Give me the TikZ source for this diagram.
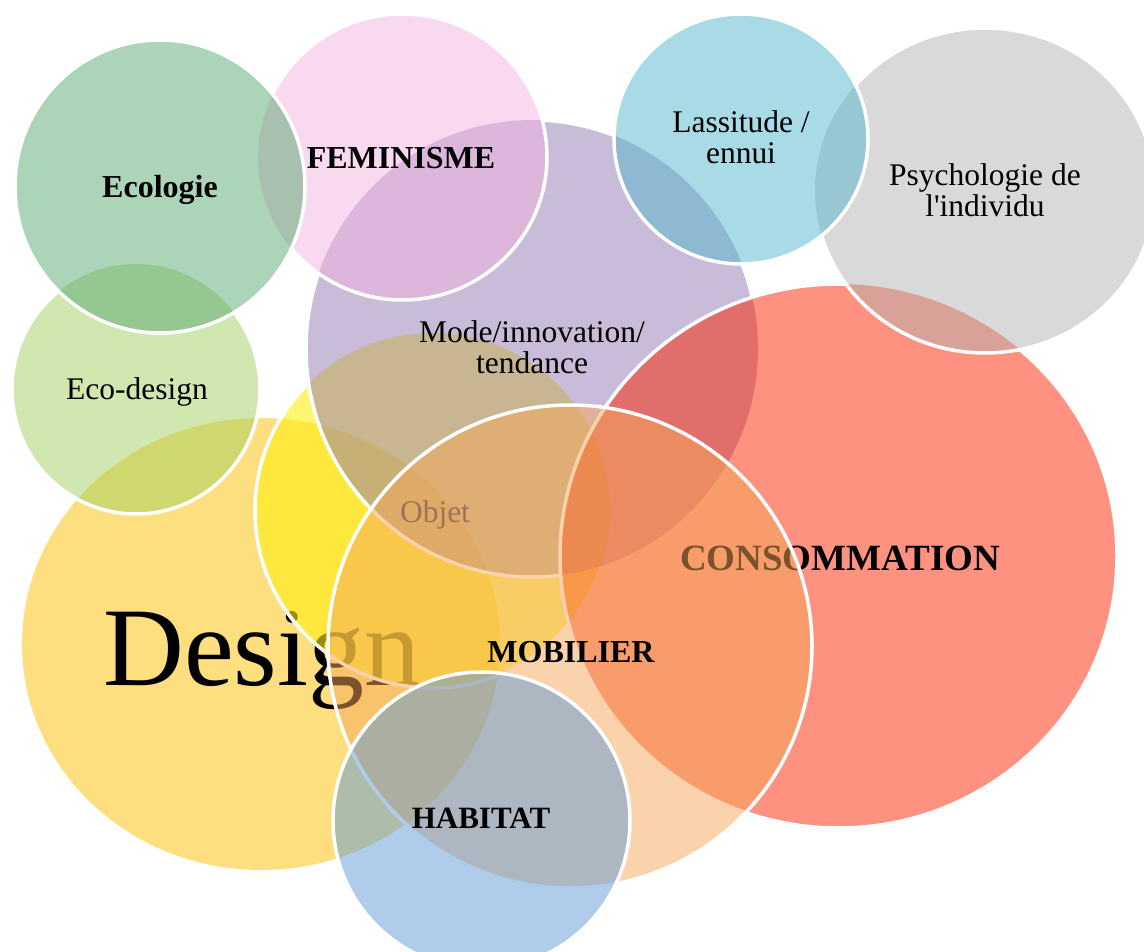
\documentclass[tikz,border=0pt]{standalone}
\usepackage{fontspec}
\setmainfont{Liberation Serif}[Ligatures=TeXOff]
\definecolor{cDesign}{RGB}{251,191,0}
\definecolor{cObjet}{RGB}{255,238,17}
\definecolor{cMode}{RGB}{145,121,177}
\definecolor{cCons}{RGB}{253,35,0}
\definecolor{cMob}{RGB}{245,167,89}
\definecolor{cHab}{RGB}{95,155,215}
\definecolor{cEcoD}{RGB}{161,209,97}
\definecolor{cFem}{RGB}{241,179,223}
\definecolor{cEcol}{RGB}{89,169,113}
\definecolor{cPsy}{RGB}{179,179,179}
\definecolor{cLass}{RGB}{83,183,205}
% exclusion clip: keep everything outside the given ellipse
\newcommand\ExclClip[4]{\clip (-60,-60) rectangle (1260,1060) (#1,#2) ellipse [x radius=#3pt, y radius=#4pt];}
\tikzset{
  pDesign/.style={insert path={(261,644) ellipse [x radius=239pt, y radius=226pt]}},
  pObjet/.style={insert path={(432.5,510.5) ellipse [x radius=177.5pt, y radius=177.5pt]}},
  pMode/.style={insert path={(532,348.5) ellipse [x radius=226pt, y radius=228.5pt]}},
  pCons/.style={insert path={(838.5,556) ellipse [x radius=278.5pt, y radius=272pt]}},
  pMob/.style={insert path={(570,646.5) ellipse [x radius=242pt, y radius=241.5pt]}},
  pHab/.style={insert path={(481.5,820.5) ellipse [x radius=148.5pt, y radius=148.5pt]}},
  pEcoD/.style={insert path={(136,389) ellipse [x radius=124pt, y radius=125pt]}},
  pFem/.style={insert path={(402.5,157) ellipse [x radius=144.5pt, y radius=143pt]}},
  pEcol/.style={insert path={(160,186.5) ellipse [x radius=145pt, y radius=146.5pt]}},
  pPsy/.style={insert path={(985,190.5) ellipse [x radius=170pt, y radius=162.5pt]}},
  pLass/.style={insert path={(741,139) ellipse [x radius=127pt, y radius=125pt]}},
  rim/.style={draw=white, line width=3.5pt},
  lbl/.style={inner sep=0pt, align=center, text=black, anchor=base,
    font=\fontsize{31.5}{31}\selectfont},
  blbl/.style={lbl, font=\fontsize{32}{31}\selectfont\bfseries},
}
\begin{document}
\begin{tikzpicture}[x=1pt,y=-1pt]
\useasboundingbox (0,0) rectangle (1144,952);
\clip (0,0) rectangle (1144,952);
% Design
\fill[cDesign, fill opacity=.5, pDesign];
\node[lbl, font=\fontsize{112}{112}\selectfont] (tDesign) at (262,685) {Design};
% Objet
\fill[cObjet, fill opacity=.6, pObjet];
\begin{scope}[even odd rule]
  \ExclClip{532}{348.5}{226}{228.5}
  \path[rim, pObjet];
\end{scope}
\node[lbl] (tObjet) at (435,522) {Objet};
% Mode
\fill[cMode, fill opacity=.5, pMode];
\begin{scope}[even odd rule]
  \ExclClip{838.5}{556}{278.5}{272}
  \begin{scope}
    \ExclClip{402.5}{157}{144.5}{143}
    \begin{scope}
      \ExclClip{741}{139}{127}{125}
      \path[rim, pMode];
    \end{scope}
  \end{scope}
\end{scope}
\node[lbl] (tMode) at (532,373) {Mode/innovation/\\tendance};
% Consommation
\fill[cCons, fill opacity=.5, pCons];
\begin{scope}[even odd rule]
  \ExclClip{985}{190.5}{170}{162.5}
  \path[rim, pCons];
\end{scope}
\node[blbl, font=\fontsize{37}{37}\selectfont\bfseries] (tCons) at (840,570) {CONSOMMATION};
% Mobilier
\fill[cMob, fill opacity=.5, pMob];
\path[rim, pMob];
\node[blbl] (tMob) at (571,662) {MOBILIER};
% Habitat
\fill[cHab, fill opacity=.5, pHab];
\path[rim, pHab];
\node[blbl, font=\fontsize{31}{31}\selectfont\bfseries] (tHab) at (481,828) {HABITAT};
% Eco-design
\fill[cEcoD, fill opacity=.5, pEcoD];
\begin{scope}[even odd rule]
  \ExclClip{160}{186.5}{145}{146.5}
  \path[rim, pEcoD];
\end{scope}
\node[lbl] (tEcoD) at (137,399) {Eco-design};
% Feminisme
\fill[cFem, fill opacity=.5, pFem];
\begin{scope}[even odd rule]
  \ExclClip{160}{186.5}{145}{146.5}
  \path[rim, pFem];
\end{scope}
\node[blbl] (tFem) at (401,169) {FEMINISME};
% Ecologie
\fill[cEcol, fill opacity=.5, pEcol];
\path[rim, pEcol];
\node[blbl] (tEcol) at (160,198) {Ecologie};
% Psychologie
\fill[cPsy, fill opacity=.5, pPsy];
\begin{scope}[even odd rule]
  \ExclClip{741}{139}{127}{125}
  \path[rim, pPsy];
\end{scope}
\node[lbl] (tPsy) at (985,217) {Psychologie de\\l'individu};
% Lassitude
\fill[cLass, fill opacity=.5, pLass];
\path[rim, pLass];
\node[lbl] (tLass) at (741,164) {Lassitude /\\ennui};
\end{tikzpicture}
\end{document}
